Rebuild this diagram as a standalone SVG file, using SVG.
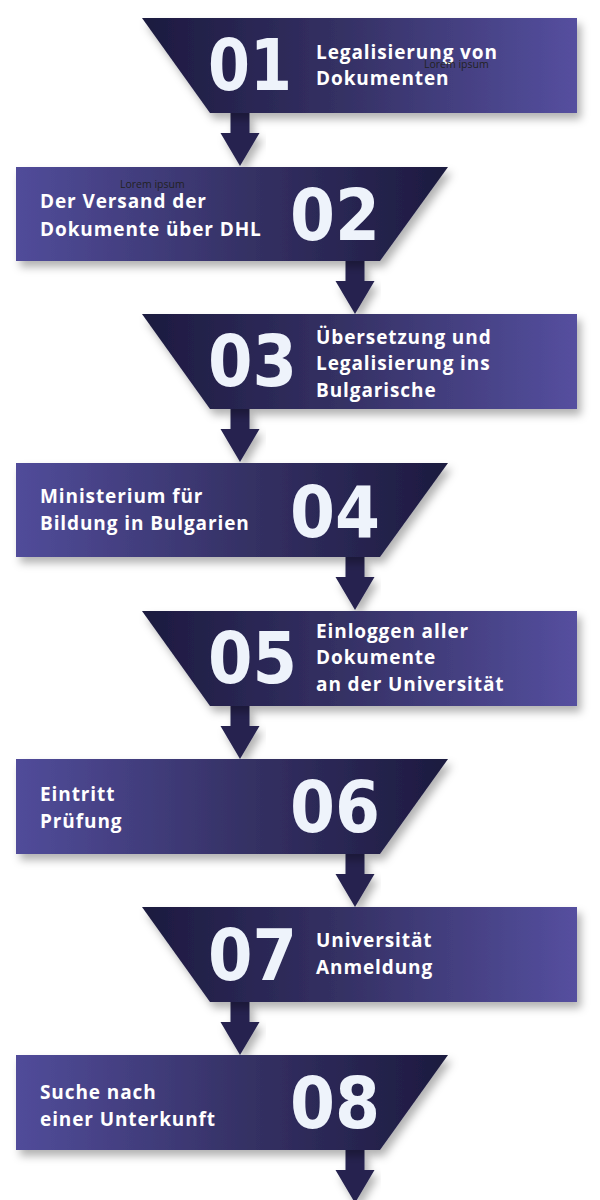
<svg xmlns="http://www.w3.org/2000/svg" width="600" height="1200" viewBox="0 0 600 1200">
<defs>
<linearGradient id="gOdd" x1="0" y1="0" x2="1" y2="0">
<stop offset="0" stop-color="#1c1a3f"/>
<stop offset="0.45" stop-color="#343063"/>
<stop offset="1" stop-color="#554f9f"/>
</linearGradient>
<linearGradient id="gEven" x1="0" y1="0" x2="1" y2="0">
<stop offset="0" stop-color="#514c9a"/>
<stop offset="0.55" stop-color="#343063"/>
<stop offset="1" stop-color="#1c1a3f"/>
</linearGradient>
<filter id="sh" x="-10%" y="-20%" width="125%" height="150%">
<feDropShadow dx="4" dy="6" stdDeviation="4" flood-color="#000" flood-opacity="0.3"/>
</filter>
<polygon id="arr" points="-9.5,0 9.5,0 9.5,20 19.5,20 0,53 -19.5,20 -9.5,20"/>
</defs>
<style>
.num{font-family:"DejaVu Sans",sans-serif;font-weight:bold;font-size:72px;fill:#eef3fb}
.lbl{font-family:"Open Sans","DejaVu Sans",sans-serif;font-weight:700;font-size:19px;letter-spacing:0.9px;fill:#ffffff}
.lor{font-family:"Open Sans",sans-serif;font-size:10.5px;fill:#222222}
.arrow{fill:#26234f;filter:url(#sh)}
</style>
<g id="connectors">
<use href="#arr" class="arrow" x="240" y="113"/>
<use href="#arr" class="arrow" x="355" y="261"/>
<use href="#arr" class="arrow" x="240" y="409"/>
<use href="#arr" class="arrow" x="355" y="557"/>
<use href="#arr" class="arrow" x="240" y="706"/>
<use href="#arr" class="arrow" x="355" y="854"/>
<use href="#arr" class="arrow" x="240" y="1002"/>
<use href="#arr" class="arrow" x="355" y="1150"/>
</g>
<g id="step01">
<polygon points="142,18 577,18 577,113 210,113" fill="url(#gOdd)" filter="url(#sh)"/>
<text class="num" x="208" y="90" textLength="84" lengthAdjust="spacingAndGlyphs">01</text>
<text class="lbl" x="316" y="59">Legalisierung von</text>
<text class="lbl" x="316" y="85">Dokumenten</text>
<text class="lor" x="424" y="68">Lorem ipsum</text>
</g>
<g id="step02">
<polygon points="16,167 448,167 380,261 16,261" fill="url(#gEven)" filter="url(#sh)"/>
<text class="num" x="290" y="240" textLength="90" lengthAdjust="spacingAndGlyphs">02</text>
<text class="lbl" x="40" y="208">Der Versand der</text>
<text class="lbl" x="40" y="236">Dokumente über DHL</text>
<text class="lor" x="120" y="188">Lorem ipsum</text>
</g>
<g id="step03">
<polygon points="142,314 577,314 577,409 210,409" fill="url(#gOdd)" filter="url(#sh)"/>
<text class="num" x="208" y="386" textLength="89" lengthAdjust="spacingAndGlyphs">03</text>
<text class="lbl" x="316" y="344">Übersetzung und</text>
<text class="lbl" x="316" y="370">Legalisierung ins</text>
<text class="lbl" x="316" y="397">Bulgarische</text>
</g>
<g id="step04">
<polygon points="16,463 448,463 380,557 16,557" fill="url(#gEven)" filter="url(#sh)"/>
<text class="num" x="290" y="537" textLength="90" lengthAdjust="spacingAndGlyphs">04</text>
<text class="lbl" x="40" y="503">Ministerium für</text>
<text class="lbl" x="40" y="530">Bildung in Bulgarien</text>
</g>
<g id="step05">
<polygon points="142,611 577,611 577,706 210,706" fill="url(#gOdd)" filter="url(#sh)"/>
<text class="num" x="208" y="683" textLength="89" lengthAdjust="spacingAndGlyphs">05</text>
<text class="lbl" x="316" y="638">Einloggen aller</text>
<text class="lbl" x="316" y="664">Dokumente</text>
<text class="lbl" x="316" y="691">an der Universität</text>
</g>
<g id="step06">
<polygon points="16,759 448,759 380,854 16,854" fill="url(#gEven)" filter="url(#sh)"/>
<text class="num" x="290" y="832" textLength="90" lengthAdjust="spacingAndGlyphs">06</text>
<text class="lbl" x="40" y="801">Eintritt</text>
<text class="lbl" x="40" y="828">Prüfung</text>
</g>
<g id="step07">
<polygon points="142,907 577,907 577,1002 210,1002" fill="url(#gOdd)" filter="url(#sh)"/>
<text class="num" x="208" y="980" textLength="89" lengthAdjust="spacingAndGlyphs">07</text>
<text class="lbl" x="316" y="947">Universität</text>
<text class="lbl" x="316" y="974">Anmeldung</text>
</g>
<g id="step08">
<polygon points="16,1055 448,1055 380,1150 16,1150" fill="url(#gEven)" filter="url(#sh)"/>
<text class="num" x="290" y="1128" textLength="90" lengthAdjust="spacingAndGlyphs">08</text>
<text class="lbl" x="40" y="1099">Suche nach</text>
<text class="lbl" x="40" y="1126">einer Unterkunft</text>
</g>
</svg>
